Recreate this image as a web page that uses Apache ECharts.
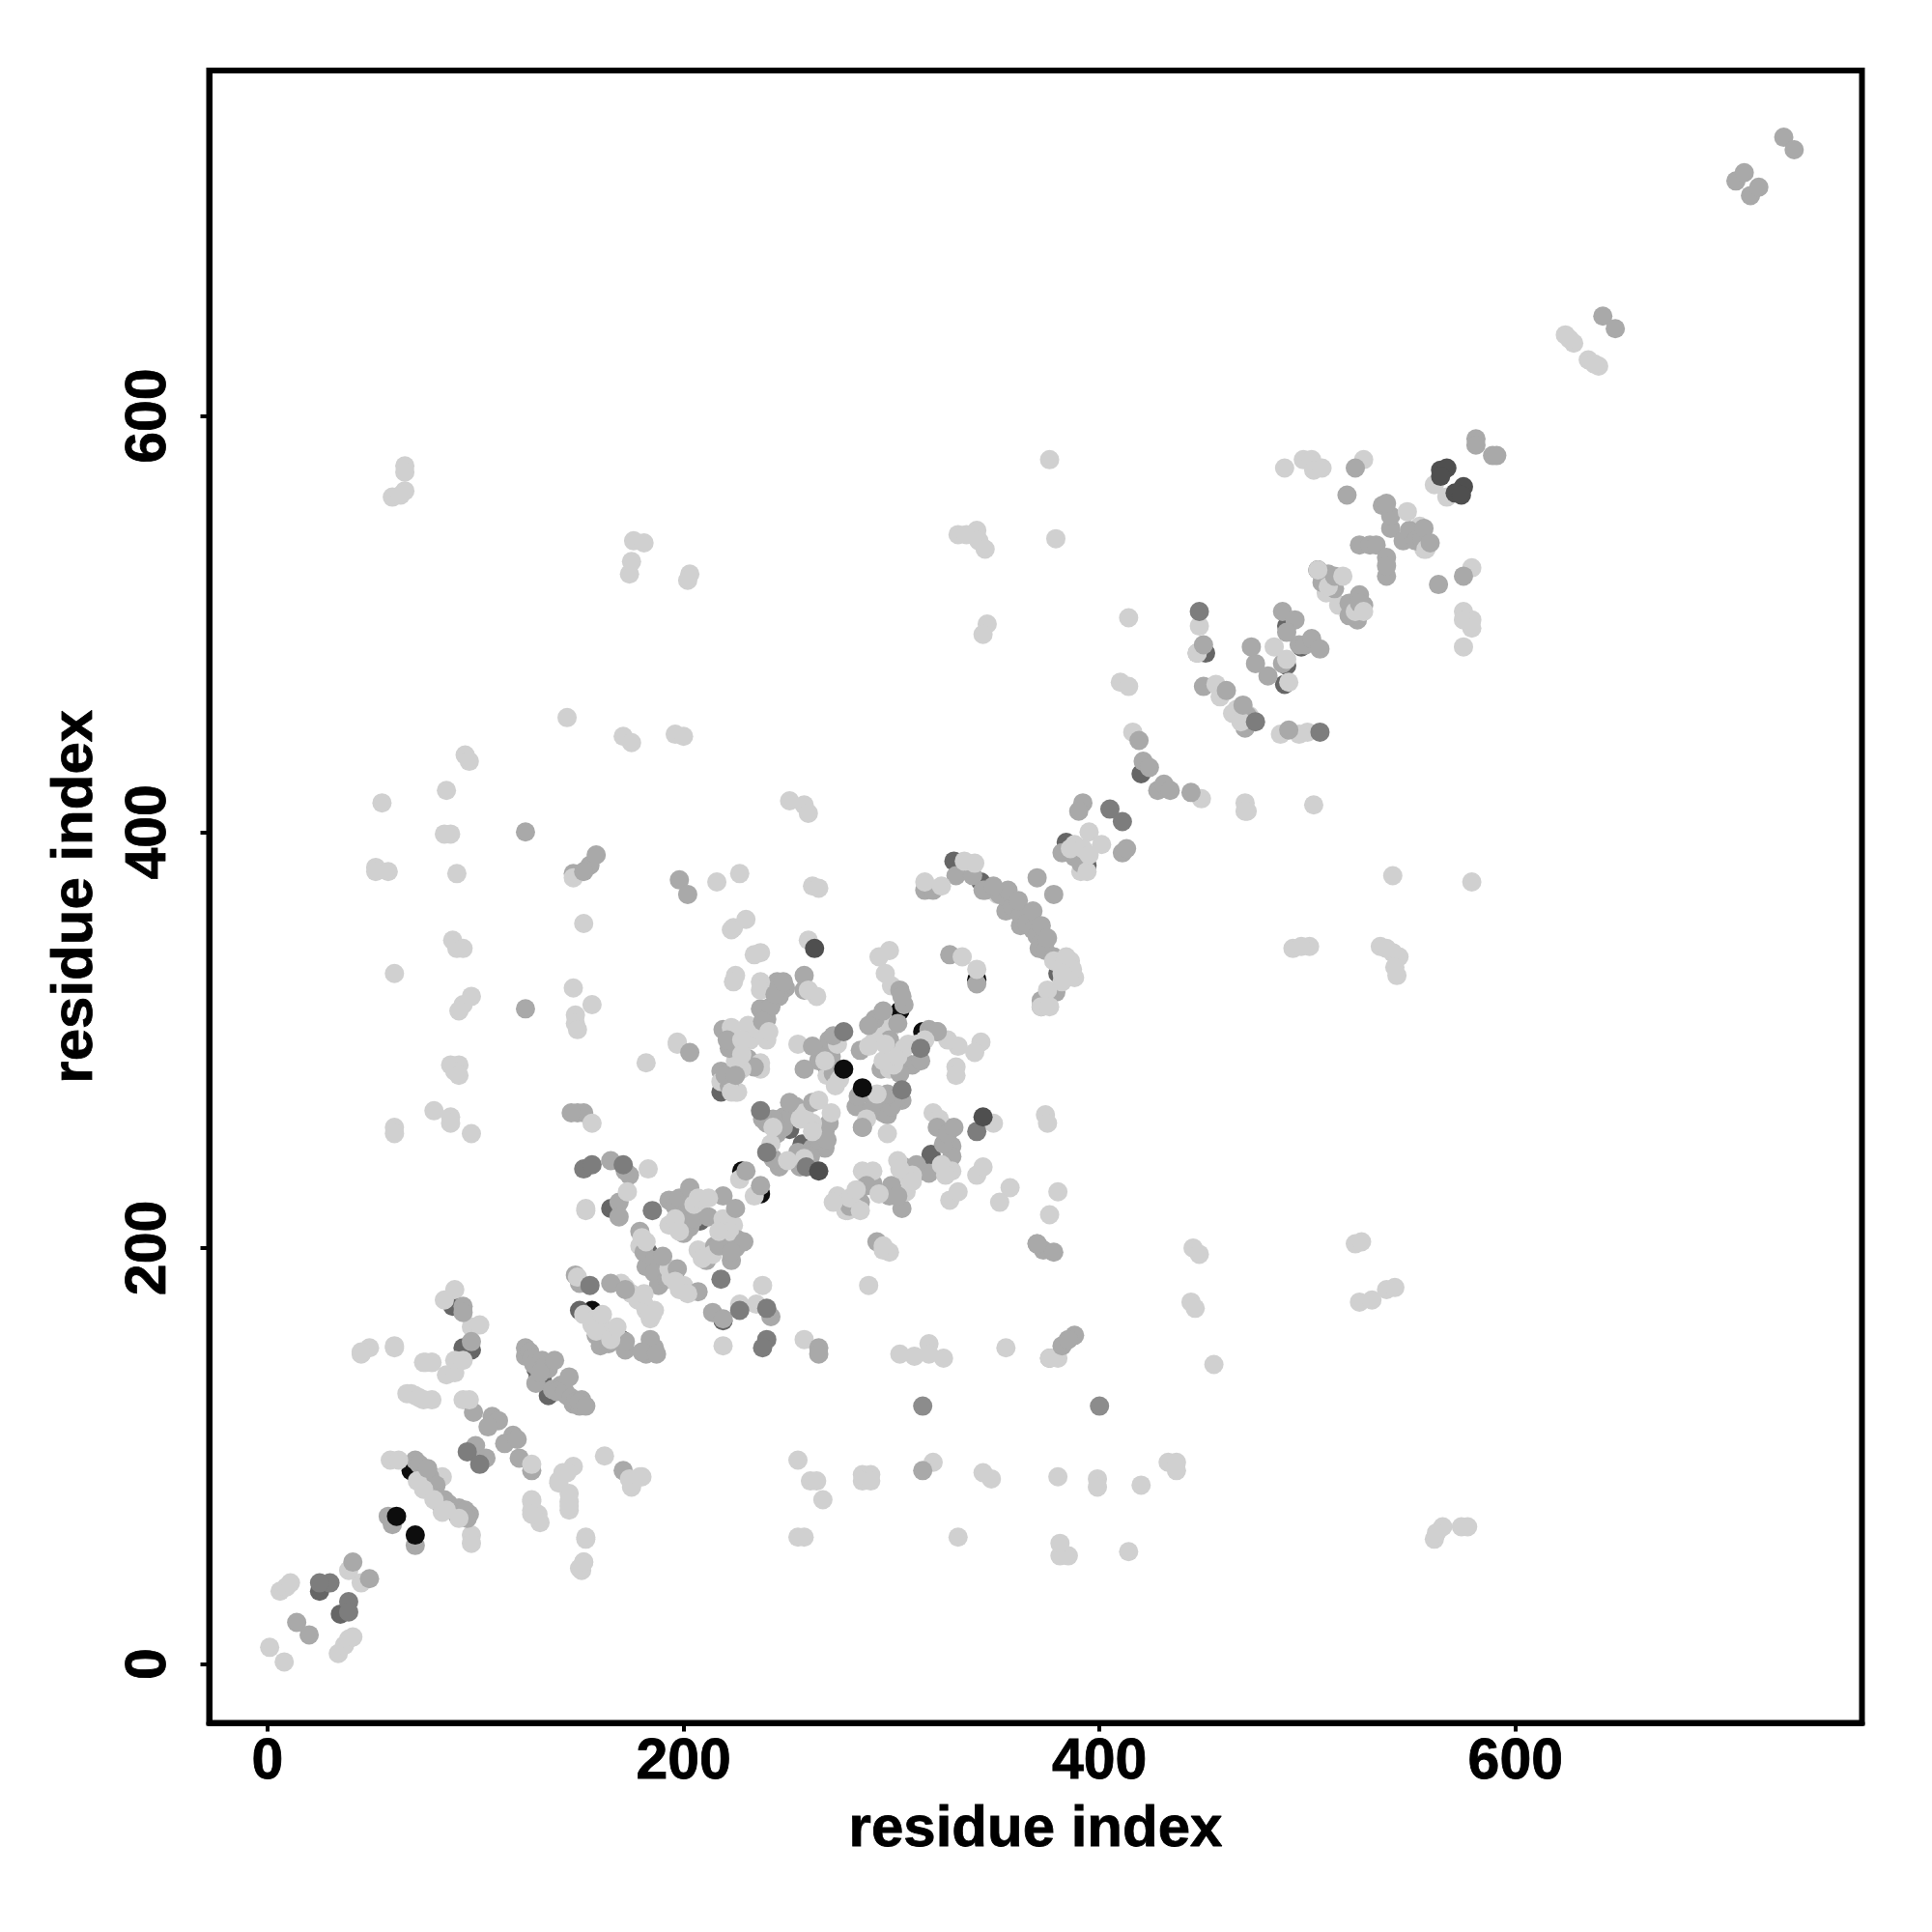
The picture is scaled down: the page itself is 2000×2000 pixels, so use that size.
<!DOCTYPE html>
<html>
<head>
<meta charset="utf-8">
<style>html,body{margin:0;padding:0;background:#fff}#c{width:2000px;height:2000px}</style>
<script src="https://cdn.jsdelivr.net/npm/echarts@6/dist/echarts.min.js"></script>
</head>
<body>
<div id="c"></div>
<script>
const tickValues = [0, 200, 400, 600];
const axisTitle = 'residue index';

const underBlack = [[69,93],[74,91],[90,74],[156,170],[170,156],[228,237],[237,226],[304,314],[315,304],[341,329]];
const underDark = [[25,35],[35,24],[89,172],[94,152],[91,72],[98,151],[135,129],[130,138],[129,142],[132,137],[150,170],[165,219],[183,198],[184,191],[208,213],[251,257],[257,250],[269,287],[330,386],[333,382],[343,376],[380,332],[385,331],[420,428],[394,384],[384,395],[451,486],[490,499],[505,526],[219,165],[218,275],[319,245],[319,239],[490,480],[489,471],[497,489],[523,505]];
const midLow = [[58,71],[60,67],[71,57],[71,98],[83,77],[79,84],[97,72],[127,93],[124,152],[124,148],[130,145],[135,142],[129,135],[141,134],[147,125],[144,129],[148,187],[150,183],[172,151],[182,149],[182,191],[190,185],[171,93],[149,265],[152,265],[165,242],[172,237],[169,222],[169,215],[179,208],[193,223],[200,222],[200,217],[200,207],[211,194],[223,194],[214,169],[219,166],[246,239],[256,239],[240,260],[248,263],[262,248],[291,231],[219,305],[225,298],[218,285],[231,291],[245,328],[249,325],[246,321],[237,315],[258,331],[258,324],[271,292],[285,295],[295,286],[283,268],[296,270],[298,264],[286,258],[305,271],[307,289],[322,304],[326,258],[329,249],[329,244],[314,237],[306,239],[299,225],[305,219],[285,222],[276,222],[370,202],[373,199],[293,203],[316,372],[320,372],[331,379],[339,379],[344,372],[355,362],[362,355],[371,344],[379,323],[372,319],[372,316],[328,341],[341,327],[382,390],[411,390],[428,420],[536,557],[540,546],[546,540],[525,538],[538,523],[524,502],[450,470],[470,450],[475,481],[481,475],[488,481],[496,490],[510,524],[447,486],[147,380],[155,384],[376,147]];
const lightLow = [[1,8],[8,1],[6,35],[9,37],[34,5],[37,9],[45,39],[39,45],[98,62],[98,58],[59,98],[63,98],[84,90],[75,127],[67,130],[71,129],[127,78],[130,72],[131,68],[127,74],[145,78],[145,74],[153,61],[152,49],[151,45],[140,88],[142,92],[147,95],[90,180],[85,175],[86,139],[90,140],[90,146],[94,146],[75,145],[79,145],[45,149],[61,153],[98,162],[102,163],[162,156],[156,163],[153,219],[179,201],[207,199],[193,211],[207,218],[224,211],[211,198],[238,182],[235,173],[227,173],[219,153],[258,156],[227,233],[234,225],[226,275],[220,280],[237,286],[287,236],[275,224],[283,219],[278,218],[296,199],[289,182],[224,354],[230,358],[223,353],[237,342],[234,341],[225,331],[224,328],[237,328],[237,324],[264,321],[260,324],[223,306],[231,307],[197,299],[225,290],[237,289],[224,283],[218,280],[225,275],[255,298],[269,283],[299,343],[294,340],[297,332],[300,326],[299,305],[296,307],[299,286],[296,290],[332,297],[327,300],[343,299],[340,294],[331,287],[331,283],[320,265],[323,262],[329,237],[303,242],[307,235],[307,227],[286,237],[291,237],[274,225],[279,218],[328,223],[332,227],[341,235],[344,239],[357,229],[352,222],[380,227],[376,216],[374,264],[375,260],[299,198],[296,201],[351,370],[375,324],[316,376],[324,374],[372,316],[388,394],[391,381],[416,448],[470,414],[471,410],[449,416],[498,579],[502,579],[503,574],[507,575],[489,575],[527,579],[561,567],[567,561],[556,536],[554,547],[575,506],[579,502],[575,502],[579,498],[575,489],[579,527],[509,515],[515,509],[447,486],[456,471],[458,465],[466,459],[472,456],[487,447],[500,448],[496,447],[448,499],[66,576],[66,573],[66,564],[60,561],[64,562],[144,455],[176,540],[181,539],[174,524],[175,530],[203,524],[202,521],[196,447],[200,446],[171,446],[175,443],[95,437],[97,434],[86,420],[55,414],[88,399],[85,399],[91,380],[52,383],[52,381],[58,381],[147,378],[152,356],[216,376],[227,380],[251,415],[258,413],[260,409],[262,374],[265,373],[89,348],[91,344],[94,344],[61,332],[147,325],[148,312],[148,308],[149,305],[156,317],[94,317],[98,321],[92,314],[88,288],[92,288],[90,285],[92,283],[182,289],[61,258],[61,255],[80,266],[88,263],[88,260],[98,255],[153,218],[197,298],[376,579],[379,541],[332,543],[336,543],[341,545],[342,540],[345,536],[346,500],[344,495],[414,503],[410,472],[414,470],[470,410],[503,413],[541,379],[579,376],[501,345],[493,344],[497,345],[535,345],[541,342],[544,340],[542,335],[543,331],[538,344],[523,202],[526,203],[525,174],[531,175],[538,180],[542,181],[445,200],[448,197],[444,174],[446,171],[455,144],[355,152],[325,147],[318,154],[318,149],[311,148],[304,149],[381,52],[385,52],[381,58],[380,90],[399,89],[399,85],[420,86],[433,97],[437,97],[437,93],[414,54],[344,92],[348,89],[332,61],[320,97],[286,91],[290,91],[286,88],[290,88],[255,98],[261,88],[264,88],[267,79],[255,61],[258,61],[561,60],[565,66],[562,63],[574,66],[577,66],[153,60],[150,46],[152,49],[162,100],[174,89],[175,85],[180,90],[127,79],[127,72],[145,82],[145,76],[140,87],[144,92],[49,152],[45,150],[61,152],[76,145],[79,145],[69,130],[73,128],[79,127],[94,127],[380,147],[376,147],[624,639],[628,635],[635,627],[640,624],[638,625],[626,637]];
const clusterMid = [[126,150],[127,147],[128,144],[132,146],[133,143],[131,140],[137,132],[139,131],[143,131],[146,128],[148,126],[150,124],[151,127],[73,96],[76,92],[78,90],[81,86],[82,80],[85,79],[87,77],[92,75],[95,74],[96,70],[158,158],[160,153],[172,155],[164,154],[186,152],[184,156],[180,150],[196,220],[198,224],[203,226],[203,210],[205,214],[212,215],[218,204],[215,201],[226,204],[225,200],[181,198],[186,194],[186,188],[188,182],[192,185],[243,262],[245,255],[248,258],[252,264],[254,268],[268,256],[270,260],[268,248],[265,252],[255,246],[261,244],[243,243],[238,262],[222,296],[221,300],[234,287],[222,278],[220,283],[240,310],[242,316],[244,322],[248,328],[265,290],[268,295],[270,300],[272,284],[292,270],[296,265],[300,268],[302,272],[298,274],[290,266],[284,273],[292,310],[299,300],[303,308],[310,288],[314,290],[304,284],[322,258],[325,250],[327,255],[318,236],[312,240],[300,230],[303,225],[288,230],[280,220],[345,372],[352,370],[356,368],[358,364],[362,360],[365,356],[368,353],[370,350],[372,347],[374,343],[378,340],[380,337],[540,552],[549,545],[552,540],[555,541],[507,520],[513,517],[520,510],[527,509],[520,504],[471,456],[388,388],[391,385],[152,381],[306,317],[304,324],[318,305],[322,304],[499,490],[524,506]];
const clusterLight = [[72,88],[75,84],[86,74],[80,79],[92,70],[84,73],[152,168],[158,166],[160,163],[163,160],[166,160],[158,160],[165,156],[172,181],[175,178],[178,175],[182,170],[184,166],[186,170],[170,183],[205,221],[196,214],[198,208],[219,214],[222,208],[209,195],[214,197],[180,205],[193,190],[194,186],[198,180],[200,182],[182,203],[258,265],[262,260],[258,243],[243,258],[232,300],[236,305],[228,300],[228,286],[223,275],[228,293],[240,300],[274,298],[268,290],[275,281],[273,278],[293,274],[288,262],[292,300],[297,298],[312,298],[316,300],[306,296],[301,288],[303,292],[324,240],[326,235],[310,235],[304,238],[310,232],[280,224],[283,228],[294,226],[285,218],[272,222],[378,338],[383,337],[386,338],[388,330],[385,334],[382,328],[510,518],[523,506],[464,457],[468,453],[386,392],[392,392],[394,381],[557,536]];
const midTop = [[41,49],[49,41],[14,20],[20,14],[94,172],[94,169],[77,94],[100,105],[105,99],[121,99],[98,155],[99,121],[108,119],[111,117],[106,114],[118,110],[114,106],[120,108],[138,146],[145,138],[150,126],[153,124],[187,149],[165,183],[172,180],[174,235],[190,196],[197,190],[207,179],[203,229],[219,225],[225,219],[229,203],[217,201],[223,198],[230,237],[237,230],[242,167],[265,152],[265,149],[251,270],[262,270],[269,252],[198,377],[202,370],[203,294],[238,309],[225,283],[262,297],[272,302],[258,286],[289,307],[296,314],[286,258],[330,258],[378,198],[370,202],[305,321],[356,372],[349,374],[361,367],[368,362],[372,355],[375,349],[392,414],[390,410],[413,392],[419,444],[421,434],[424,431],[431,423],[434,420],[444,419],[370,378],[378,370],[523,575],[519,562],[581,589],[581,586],[589,581],[591,581],[538,558],[556,546],[559,539],[530,538],[533,538],[538,532],[538,528],[563,519],[575,523],[525,514],[525,510],[513,523],[473,489],[488,506],[494,502],[490,496],[502,493],[506,488],[461,468],[469,461],[491,449],[450,490],[729,734],[734,728],[706,713],[710,717],[713,706],[717,710],[642,648],[648,642],[158,389],[146,265],[382,153],[388,158],[385,156],[315,93],[124,400],[124,315]];
const lightTop = [[11,39],[39,12],[41,13],[97,127],[127,96],[156,260],[183,238],[173,227],[207,224],[212,224],[242,250],[250,242],[256,262],[265,271],[271,265],[262,256],[217,208],[202,178],[196,184],[161,168],[168,162],[179,90],[181,173],[185,168],[181,178],[149,186],[260,348],[241,304],[289,297],[308,298],[298,255],[349,260],[335,386],[340,385],[334,340],[341,334],[384,340],[387,334],[382,332],[376,316],[395,400],[401,394],[395,389],[548,554],[517,523],[527,506],[490,483],[491,472],[484,489],[505,526]];
const darkTop = [[155,182],[218,185],[185,218],[152,238],[156,240],[171,240],[237,266],[240,246],[259,239],[277,304],[314,296],[305,276],[341,256],[240,156],[238,152],[227,170],[240,171],[405,411],[411,405],[475,453],[448,506],[506,448],[39,30],[39,25],[30,39],[25,39],[96,102],[102,96]];
const midDark = [[315,124],[400,124]];
const veryDark = [[564,574],[567,575],[564,571],[575,566],[571,563],[574,562],[265,237],[263,344],[344,263]];
const blackTop = [[62,71],[71,62],[277,286],[286,277]];

const layers = [
  [underBlack, '#0d0d0d'], [underDark, '#666666'], [midLow, '#a9a9a9'], [lightLow, '#d0d0d0'],
  [clusterMid, '#a9a9a9'], [clusterLight, '#d0d0d0'],
  [midTop, '#a9a9a9'], [lightTop, '#d0d0d0'], [midDark, '#8c8c8c'], [darkTop, '#7d7d7d'], [veryDark, '#4f4f4f'], [blackTop, '#0d0d0d']
];

const labelFont = {fontFamily: 'Liberation Sans', fontWeight: 'bold', color: '#000', textBorderColor: '#000', textBorderWidth: 0.8};

const axisCommon = {
  type: 'value', splitLine: {show: false},
  nameLocation: 'middle', name: axisTitle,
  nameTextStyle: Object.assign({}, labelFont, {fontSize: 60}),
  axisLine: {show: true, onZero: false, lineStyle: {color: '#000', width: 6}},
  axisTick: {show: true, length: 9, lineStyle: {color: '#000', width: 4}, customValues: tickValues},
  axisLabel: Object.assign({show: true, customValues: tickValues, fontSize: 59}, labelFont)
};

const chart = echarts.init(document.getElementById('c'), null, {renderer: 'canvas'});
chart.setOption({
  animation: false,
  backgroundColor: '#fff',
  grid: {left: 216.5, top: 73, width: 1711, height: 1710.5, show: true, borderColor: '#000', borderWidth: 6, backgroundColor: 'transparent'},
  xAxis: Object.assign({}, axisCommon, {min: -28.1, max: 766.6, nameGap: 81, axisLabel: Object.assign({}, axisCommon.axisLabel, {margin: 12})}),
  yAxis: Object.assign({}, axisCommon, {min: -28.3, max: 766.1, nameGap: 108, nameRotate: 90, axisLabel: Object.assign({}, axisCommon.axisLabel, {rotate: 90, margin: 32})}),
  series: layers.map(function (l, i) {
    return {type: 'scatter', data: l[0], symbol: 'circle', symbolSize: 20, z: 2 + i, itemStyle: {color: l[1], opacity: 1}, silent: true};
  })
});
</script>
</body>
</html>
